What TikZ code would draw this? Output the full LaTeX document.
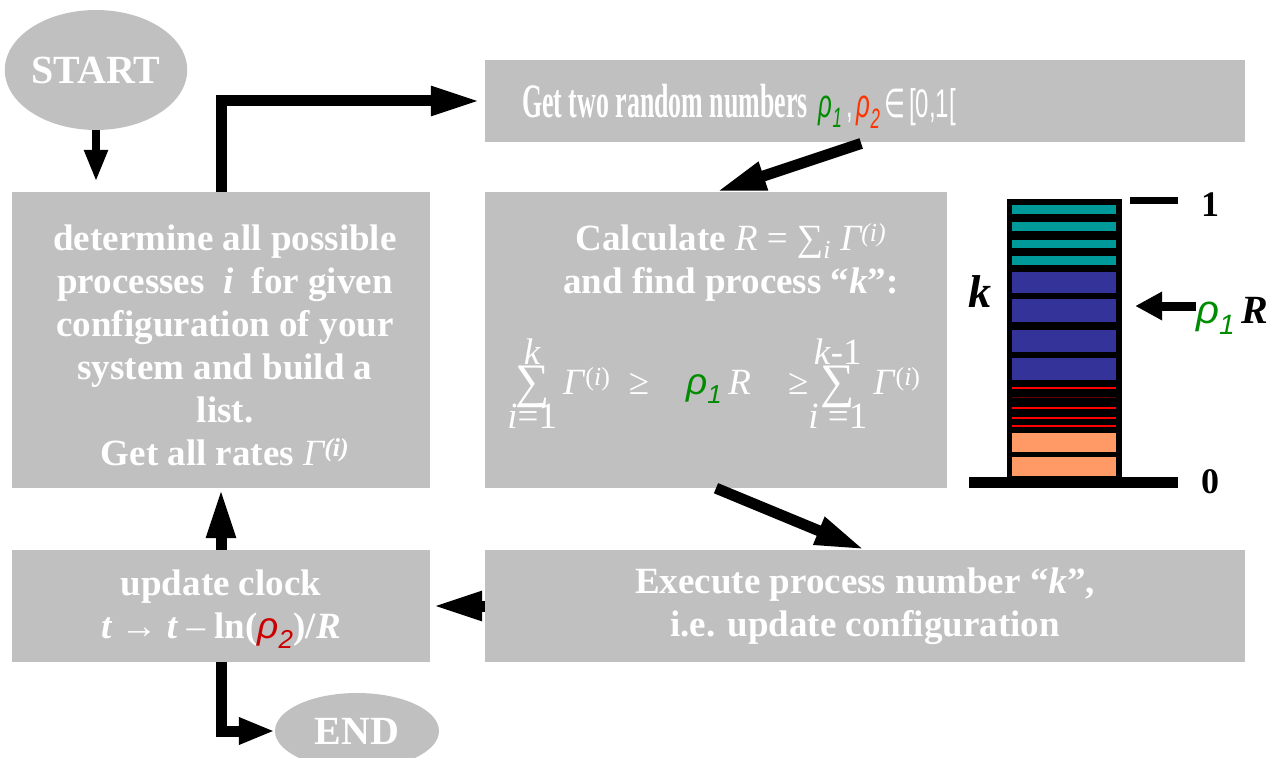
\documentclass[tikz,border=0pt]{standalone}
\usepackage{fontspec}
\setmainfont{Liberation Serif}
\newfontfamily\sansf{Liberation Sans}
\newfontfamily\symf{DejaVu Sans}
\usepackage{graphicx}
\usetikzlibrary{arrows.meta,positioning,shapes.geometric}
\definecolor{boxgray}{HTML}{C0C0C0}
\definecolor{rhogreen}{HTML}{008C00}
\definecolor{rhored}{HTML}{FF3300}
\definecolor{rhodark}{HTML}{CC0000}
\definecolor{stripeteal}{HTML}{009999}
\definecolor{stripeblue}{HTML}{333399}
\definecolor{stripeorange}{HTML}{FF9966}
\newcommand{\rhoone}{{\sansf\mdseries\itshape\color{rhogreen}ρ\textsubscript{1}}}
\newcommand{\rhotwo}[1][rhored]{{\sansf\mdseries\itshape\color{#1}ρ\textsubscript{2}}}
\newcommand{\sumstack}[2]{\begin{tabular}{@{}c@{}}#1\\[-12pt]\scalebox{1.3}{∑}\\[-12pt]#2\end{tabular}}

\begin{document}
\begin{tikzpicture}[x=1pt,y=-1pt,
    box/.style={fill=boxgray,inner sep=0pt},
    txt/.style={text=white,font=\bfseries\fontsize{37}{43}\selectfont,align=center,inner sep=0pt},
    term/.style={ellipse,fill=boxgray,inner sep=0pt,text=white,font=\bfseries\fontsize{40}{44}\selectfont},
    arrow/.style={line width=11pt,-{Triangle[length=50pt,width=27pt]}},
    small arrow/.style={line width=8pt,-{Triangle[length=32pt,width=22pt]}},
    end arrow/.style={line width=11pt,-{Triangle[length=36pt,width=25pt]}},
    lab/.style={font=\bfseries\fontsize{36}{40}\selectfont,inner sep=0pt},
]
\useasboundingbox (0,0) rectangle (1273,757);

% terminals
\node[term,minimum width=164pt,minimum height=120pt](start)at(96,70){START};
\node[term,minimum width=164pt,minimum height=76pt](endn)at(357,731){END};

% process boxes
\node[box,minimum width=418pt,minimum height=296pt](det)at(221,340){};
\node[box,minimum width=760pt,minimum height=82pt](rand)at(865,101){};
\node[box,minimum width=462pt,minimum height=296pt](calc)at(716,340){};
\node[box,txt,minimum width=760pt,minimum height=112pt](exec)at(865,606){Execute process number “\textit{k}”,\\i.e. update configuration};
\node[box,minimum width=418pt,minimum height=112pt](clock)at(221,606){};

% texts on the boxes
\node[txt](detT)at(225,345){determine all possible\\processes \ \textit{i} \ for given\\configuration of your\\system and build a\\list.\\Get all rates {\mdseries\itshape Γ}\textsuperscript{\itshape(i)}};
\node[txt](clockT)at(221,609){update clock\\{\itshape t} {\mdseries →} {\itshape t} {\mdseries –} ln(\rhotwo[rhodark])/{\itshape R}};
\node[txt,font=\bfseries\fontsize{48}{50}\selectfont](randT)at(739,106){\scalebox{0.54}[1]{Get two random numbers}\hspace{11pt}{\fontsize{40}{44}\selectfont\scalebox{0.6}[1]{\rhoone\,{\sansf\mdseries ,}\,\rhotwo\,{\symf\mdseries ∈}\,{\sansf\mdseries [0,1[}}}};
\node[txt](calcT)at(731,262){Calculate {\mdseries\itshape R} {\mdseries = ∑\textsubscript{\itshape i} \itshape Γ\textsuperscript{(i)}}\\and find process “\textit{k}”:};
\node[txt,font=\mdseries\fontsize{37}{43}\selectfont](calcF)at(714,388){\sumstack{\textit{k}}{\textit{i}=1}\,\textit{Γ}\textsuperscript{(\textit{i})}\enspace≥\quad\rhoone\,\textit{R}\quad≥\sumstack{\textit{k}-1}{\textit{i} =1}\,\textit{Γ}\textsuperscript{(\textit{i})}};

% flow
\draw[small arrow,shorten >=10pt](start.south)--(start.south |- det.north);
\draw[arrow,shorten >=4pt](det.north)|-(rand.west);
\draw[arrow,shorten <=4pt](rand.south)--(calc.north);
\draw[arrow](calc.south)--(exec.north);
\draw[arrow,shorten >=2pt](exec.west)--(clock.east);
\draw[arrow](clock.north)--(det.south);
\draw[end arrow](clock.south)|-(endn.west);

% stack of rates
\node[fill=black,inner sep=0pt,minimum width=115pt,minimum height=278pt](bar)at(1064.5,338){};
\foreach \a/\b in {205/214,222/231,240/248,256/265}
    \fill[stripeteal](1012,\a)rectangle(1116,\b);
\foreach \a/\b in {272/293,299/322,330/352,358/380}
    \fill[stripeblue](1012,\a)rectangle(1116,\b);
\foreach \y in {387,407,417,425}
    \fill[red](1012,\y)rectangle(1116,\y+2);
\fill[red!40!black](1012,397)rectangle(1116,398);
\foreach \a/\b in {433/452,457/476}
    \fill[stripeorange](1012,\a)rectangle(1116,\b);
\fill(969,477)rectangle(1178,488);
\fill(1130,197)rectangle(1178,204);
\node[lab](one)at(1210,205){1};
\node[lab](zero)at(1210,482){0};
\node[lab,font=\bfseries\itshape\fontsize{46}{50}\selectfont](klab)at(980,292){k};
\node[lab,anchor=west,font=\bfseries\fontsize{40}{44}\selectfont](rhoR)at(1196,316){\rhoone\,\textit{R}};
\draw[line width=9pt,-{Triangle[length=27pt,width=27pt]},shorten >=13pt]([yshift=10pt]rhoR.west)--([yshift=10pt]rhoR.west -| bar.east);
\end{tikzpicture}
\end{document}
